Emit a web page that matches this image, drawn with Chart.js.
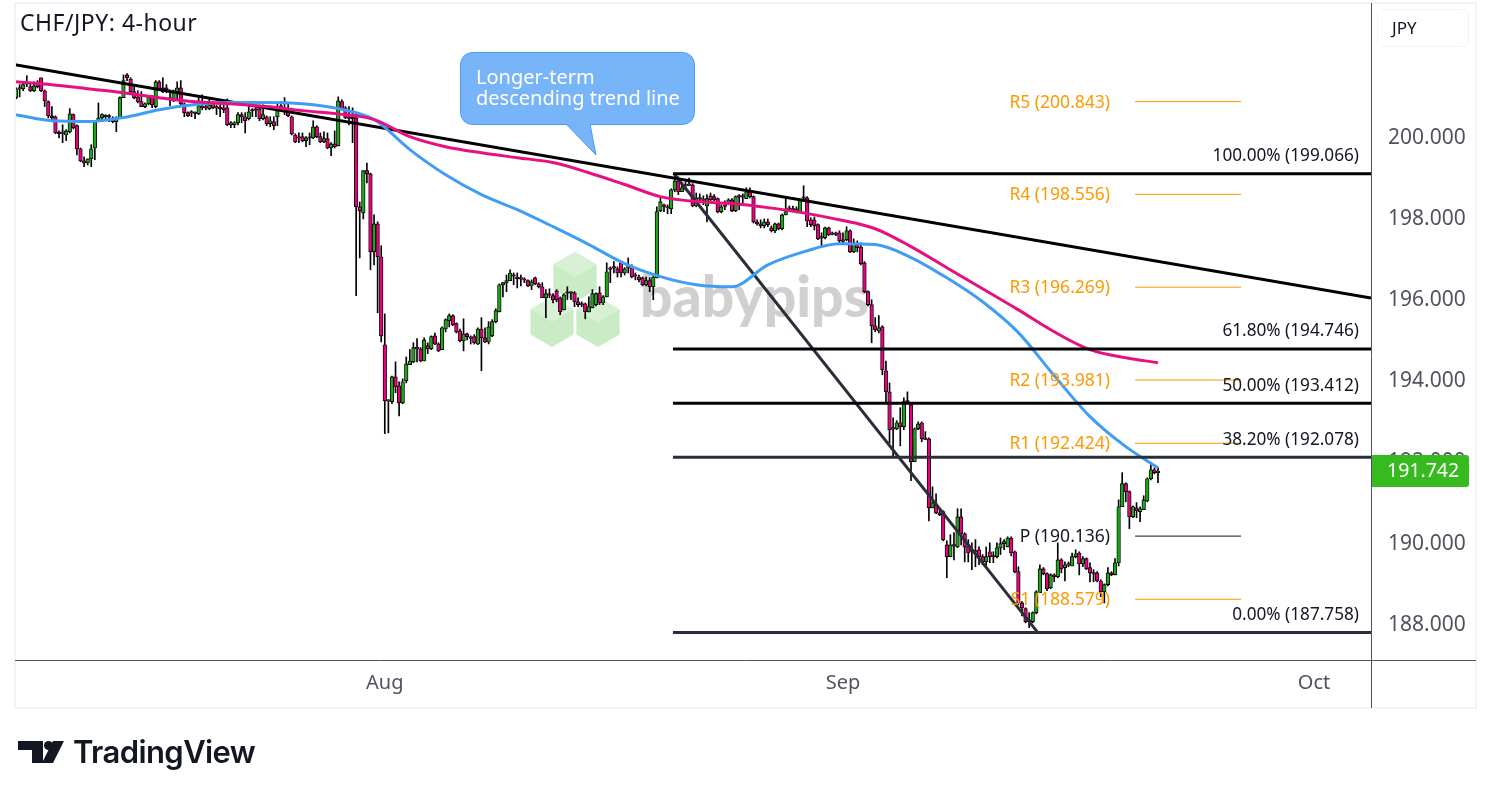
<!DOCTYPE html>
<html>
<head>
<meta charset="utf-8">
<title>CHF/JPY: 4-hour</title>
<script src="https://cdn.jsdelivr.net/npm/chart.js@4"></script>
<style>
    html, body { margin: 0; padding: 0; background: #fff; overflow: hidden; }
    #wrap { position: relative; width: 1491px; height: 798px; }
    canvas { position: absolute; left: 0; top: 0; }
    #title { position: absolute; left: 20px; top: 6px; font: 23px "Noto Sans", sans-serif; letter-spacing: 0.5px; color: #131722; }
    #unit { position: absolute; left: 1377px; top: 9px; width: 92px; height: 38px; box-sizing: border-box;
        border: 1px solid #f0f3fa; border-radius: 6px; font: 17px "Noto Sans", sans-serif; color: #131722;
        line-height: 36px; padding-left: 14px; }
    #logo { position: absolute; left: 18px; top: 736px; font: 600 31px Inter, sans-serif; color: #131722; }
    #logo svg { position: absolute; left: 0; top: 5px; }
    #logo span { position: absolute; left: 55px; top: -3px; white-space: nowrap; letter-spacing: -0.6px; }
</style>
</head>
<body>
<div id="wrap">
    <canvas id="chart" width="1491" height="798"></canvas>
    <div id="title">CHF/JPY: 4-hour</div>
    <div id="unit">JPY</div>
    <div id="logo">
        <svg width="46" height="24" viewBox="0 0 46 24"><path d="M0 0H25V22H14V9H0Z" fill="#131722"/><circle cx="30.5" cy="4.5" r="4.5" fill="#131722"/><path d="M35 0H46L35 22H24Z" fill="#131722"/></svg>
        <span>TradingView</span>
    </div>
</div>
<script>
// candles (one row = 10 bars)
const opens = [
    200.94,201.16,201.16,201.27,201.21,201.11,201.31,201.43,201.11,200.84,
    200.49,200.47,200.07,200.07,200.02,200.10,200.52,200.25,199.68,199.38,
    199.33,199.43,199.70,200.35,200.44,200.47,200.47,200.42,200.35,200.44,
    200.94,201.50,201.40,201.09,200.96,200.84,200.72,200.79,200.96,200.72,
    201.33,201.18,201.18,200.91,200.86,201.09,201.18,200.79,200.57,200.57,
    200.57,200.54,200.74,200.69,200.67,200.81,200.69,200.69,200.69,200.69,
    200.27,200.27,200.32,200.52,200.47,200.42,200.62,200.64,200.67,200.42,
    200.47,200.30,200.35,200.47,200.74,200.69,200.62,200.47,200.02,199.95,
    199.98,199.88,199.95,199.95,200.22,199.98,199.85,199.93,199.70,199.80,
    199.75,200.84,200.69,200.44,200.44,200.44,198.25,198.10,199.14,199.06,
    197.14,197.83,197.02,194.85,193.47,193.45,194.06,193.84,193.42,193.96,
    194.36,194.43,194.76,194.75,194.45,194.83,194.75,195.07,194.87,194.73,
    195.24,195.44,195.57,195.37,195.19,194.95,195.12,195.02,195.05,194.87,
    195.24,195.02,194.92,195.07,195.42,195.66,196.33,196.38,196.43,196.55,
    196.52,196.48,196.45,196.43,196.30,196.50,196.35,196.28,196.01,196.08,
    196.06,196.18,196.01,195.71,196.13,196.13,196.13,195.91,195.84,195.86,
    195.66,195.76,195.84,196.13,195.88,196.03,196.72,196.75,196.72,196.87,
    196.62,196.75,196.75,196.55,196.52,196.50,196.33,196.43,196.28,196.50,
    198.15,198.27,198.25,198.20,198.67,198.89,198.62,198.77,198.79,198.79,
    198.27,198.45,198.42,198.27,198.52,198.50,198.45,198.13,198.27,198.32,
    198.42,198.15,198.50,198.50,198.45,198.62,198.50,197.88,197.83,197.78,
    197.88,197.73,197.66,197.83,197.71,198.05,198.20,198.18,198.20,198.13,
    198.47,198.47,197.93,197.93,197.81,197.49,197.49,197.73,197.58,197.58,
    197.61,197.41,197.44,197.66,197.14,197.31,197.26,196.87,196.16,195.84,
    195.32,195.19,195.29,194.21,193.69,192.78,192.78,192.93,192.83,193.45,
    193.37,191.97,192.78,192.93,192.53,192.53,190.83,190.93,190.71,190.74,
    189.92,189.63,189.90,189.87,190.61,190.19,189.87,189.77,189.75,189.80,
    189.63,189.50,189.75,189.63,189.63,189.85,189.95,189.87,190.09,189.75,
    189.26,188.49,188.35,188.07,188.03,188.25,188.74,189.33,189.21,188.86,
    189.18,189.13,189.55,189.36,189.43,189.40,189.63,189.72,189.45,189.58,
    189.36,189.21,189.23,189.03,188.76,188.94,189.23,189.18,189.48,190.86,
    191.43,191.23,190.61,190.83,190.74,190.79,191.00,191.55,191.77,191.70
];
const highs = [
    201.18,201.26,201.31,201.48,201.31,201.33,201.36,201.43,201.13,200.86,
    200.72,200.49,200.12,200.27,200.15,200.67,200.54,200.27,199.70,199.48,
    199.43,199.78,200.35,200.81,200.54,200.52,200.52,200.47,200.47,200.96,
    201.50,201.53,201.43,201.26,201.11,201.09,200.81,200.99,200.99,201.36,
    201.36,201.43,201.26,201.13,201.13,201.33,201.36,200.81,200.59,200.62,
    200.59,200.96,201.01,200.81,200.91,200.84,200.76,200.81,200.81,200.91,
    200.35,200.35,200.57,200.57,200.57,200.81,200.67,200.69,200.76,200.76,
    200.49,200.47,200.47,200.81,200.84,200.94,200.81,200.49,200.05,200.07,
    200.07,199.98,200.07,200.37,200.25,200.07,200.10,200.07,199.83,200.12,
    200.96,200.89,200.72,200.72,200.69,200.57,198.37,199.14,199.33,199.08,
    198.05,197.88,197.29,195.61,193.49,194.08,194.43,193.94,194.01,194.55,
    194.73,194.90,195.00,194.78,195.02,194.90,195.07,195.14,194.90,195.29,
    195.49,195.61,195.59,195.39,195.24,195.49,195.14,195.07,195.10,195.27,
    195.52,195.27,195.42,195.47,195.74,196.35,196.38,196.57,196.70,196.62,
    196.62,196.57,196.50,196.45,196.45,196.52,196.38,196.38,196.21,196.23,
    196.11,196.21,196.03,196.11,196.28,196.16,196.16,196.01,195.91,195.88,
    196.03,196.21,196.13,196.28,196.06,196.87,196.77,196.90,196.77,196.90,
    196.75,196.99,196.82,196.62,196.57,196.52,196.52,196.50,196.55,198.25,
    198.47,198.32,198.30,198.69,199.06,198.99,198.84,198.87,198.96,198.82,
    198.59,198.57,198.52,198.55,198.59,198.55,198.47,198.30,198.40,198.45,
    198.45,198.52,198.55,198.57,198.72,198.72,198.52,197.93,197.93,197.95,
    197.95,197.78,197.85,197.85,198.07,198.45,198.27,198.27,198.25,198.44,
    198.77,198.50,197.98,198.00,197.83,197.61,197.75,197.75,197.63,197.63,
    197.66,197.61,197.76,197.68,197.46,197.41,197.36,196.90,196.18,195.96,
    195.52,195.57,195.32,194.45,193.91,193.05,192.98,193.30,193.54,193.69,
    193.40,192.80,192.95,192.95,192.71,192.56,191.35,191.18,190.79,190.76,
    190.02,190.17,190.22,190.81,190.81,190.22,190.05,189.97,190.05,189.87,
    189.68,189.87,189.97,189.75,189.97,190.09,190.05,190.12,190.12,189.77,
    189.38,188.52,188.37,188.25,188.27,188.79,189.43,189.36,189.23,189.21,
    189.21,189.97,189.58,189.50,189.50,189.72,189.80,189.75,189.63,189.60,
    189.48,189.31,189.26,189.06,188.96,189.36,189.26,189.58,191.03,191.70,
    191.45,191.25,190.88,190.96,190.86,191.13,191.57,191.94,191.82,191.82
];
const lows = [
    200.91,200.96,201.11,201.21,201.09,201.09,201.18,201.09,200.72,200.44,
    200.35,200.05,199.95,199.83,199.88,200.07,200.17,199.53,199.36,199.24,
    199.28,199.24,199.41,200.35,200.35,200.39,200.35,200.32,200.10,200.44,
    200.94,201.36,201.06,200.91,200.81,200.72,200.69,200.76,200.69,200.69,
    201.11,201.06,201.06,200.74,200.84,200.89,200.76,200.47,200.47,200.47,
    200.42,200.52,200.64,200.64,200.64,200.67,200.52,200.47,200.57,200.25,
    200.20,200.20,200.27,200.32,200.07,200.39,200.47,200.47,200.37,200.39,
    200.25,200.22,200.15,200.25,200.64,200.52,200.47,200.02,199.83,199.83,
    199.85,199.73,199.78,199.93,199.95,199.83,199.83,199.68,199.51,199.70,
    199.75,200.64,200.42,200.27,199.83,196.06,196.99,197.95,198.84,196.70,
    196.82,195.64,194.92,192.66,192.68,193.40,193.67,193.10,193.40,193.91,
    194.36,194.41,194.43,194.43,194.45,194.63,194.73,194.85,194.68,194.73,
    195.17,195.29,195.32,195.14,194.92,194.70,194.97,194.87,194.87,194.85,
    194.21,194.90,194.87,195.05,195.39,195.66,196.03,196.16,196.43,196.33,
    196.25,196.30,196.38,196.28,196.21,196.33,196.25,196.01,195.52,196.01,
    195.88,195.91,195.59,195.71,195.96,195.96,195.79,195.79,195.79,195.49,
    195.66,195.76,195.81,195.84,195.84,196.03,196.38,196.62,196.52,196.52,
    196.57,196.62,196.50,196.45,196.40,196.30,196.30,196.16,195.96,196.50,
    198.13,198.13,198.08,198.08,198.62,198.55,198.62,198.67,198.77,198.25,
    198.25,198.40,198.30,197.88,198.40,198.40,198.10,198.10,198.18,198.30,
    198.13,198.13,198.18,198.35,198.45,198.47,197.85,197.80,197.73,197.73,
    197.76,197.63,197.61,197.68,197.68,198.05,198.15,198.13,198.10,198.10,
    198.42,197.76,197.76,197.68,197.44,197.29,197.46,197.54,197.56,197.54,
    197.34,197.36,197.41,197.12,197.12,197.14,196.82,196.13,195.81,194.90,
    195.17,195.14,194.11,193.42,192.43,192.11,192.76,192.36,192.76,193.42,
    191.50,191.97,192.76,192.46,192.51,190.51,190.83,190.69,190.64,190.02,
    189.11,189.63,189.55,189.85,189.92,189.50,189.50,189.31,189.38,189.43,
    189.43,189.38,189.48,189.48,189.60,189.68,189.80,189.87,189.65,189.23,
    188.44,188.17,188.00,187.88,188.00,188.22,188.74,189.18,188.79,188.84,
    189.01,189.11,189.23,189.03,189.38,189.40,189.60,189.18,189.38,189.31,
    189.01,189.01,189.01,188.64,188.49,188.91,189.16,189.18,189.40,190.86,
    190.98,190.32,190.59,190.59,190.49,190.79,190.98,191.52,191.67,191.45
];
const closes = [
    201.16,201.15,201.26,201.29,201.11,201.23,201.21,201.11,200.86,200.49,
    200.44,200.07,200.05,200.06,200.12,200.54,200.20,199.68,199.38,199.33,
    199.43,199.68,200.35,200.44,200.52,200.48,200.46,200.35,200.44,200.94,
    201.36,201.43,201.09,200.94,200.84,200.72,200.79,200.96,200.76,201.33,
    201.16,201.09,201.13,200.90,201.11,201.18,200.79,200.57,200.49,200.56,
    200.55,200.74,200.69,200.68,200.76,200.69,200.68,200.67,200.64,200.27,
    200.32,200.32,200.52,200.47,200.37,200.59,200.61,200.63,200.42,200.52,
    200.30,200.37,200.25,200.72,200.69,200.62,200.49,200.05,199.85,199.94,
    199.88,199.95,199.94,200.22,199.98,199.85,199.93,199.70,199.80,199.73,
    200.86,200.67,200.44,200.43,200.42,198.25,198.15,199.14,199.06,197.14,
    197.83,197.02,195.07,193.47,193.46,194.06,193.81,193.42,193.94,194.38,
    194.45,194.78,194.75,194.45,194.97,194.75,195.05,194.87,194.70,195.27,
    195.47,195.57,195.34,195.17,194.95,195.12,195.05,195.01,194.90,195.24,
    195.02,194.92,195.29,195.42,195.69,196.33,196.38,196.43,196.62,196.54,
    196.48,196.47,196.44,196.30,196.40,196.35,196.28,196.01,196.11,196.07,
    195.96,195.96,195.66,196.08,196.12,196.12,195.91,195.84,195.83,195.66,
    195.79,196.11,196.11,195.88,196.03,196.65,196.71,196.74,196.62,196.62,
    196.72,196.74,196.52,196.54,196.45,196.33,196.43,196.28,196.52,198.13,
    198.37,198.26,198.22,198.67,198.89,198.62,198.72,198.76,198.78,198.27,
    198.47,198.44,198.41,198.45,198.42,198.42,198.13,198.25,198.26,198.42,
    198.15,198.50,198.49,198.49,198.62,198.50,197.88,197.83,197.78,197.88,
    197.81,197.66,197.83,197.71,198.05,198.13,198.19,198.17,198.13,198.42,
    198.46,197.90,197.81,197.78,197.46,197.48,197.73,197.56,197.57,197.57,
    197.41,197.40,197.66,197.14,197.36,197.24,196.85,196.16,195.84,195.32,
    195.22,195.27,194.23,193.69,192.76,192.77,192.93,192.83,193.45,193.44,
    191.97,192.78,192.90,192.53,192.52,190.83,190.96,190.71,190.66,190.05,
    189.63,189.92,189.89,190.61,190.19,189.87,189.72,189.76,189.74,189.63,
    189.50,189.63,189.63,189.62,189.85,189.95,190.00,190.09,189.72,189.26,
    188.49,188.37,188.03,188.03,188.25,188.76,189.33,189.21,188.84,189.18,
    189.13,189.55,189.33,189.43,189.42,189.63,189.70,189.45,189.58,189.33,
    189.23,189.20,189.03,188.76,188.94,189.23,189.18,189.48,190.86,191.43,
    191.23,190.61,190.86,190.76,190.81,191.03,191.55,191.77,191.70,191.74
];

// moving averages, sampled every 10 bars
const maBars = [0,10,20,30,40,50,60,70,80,90,100,110,120,130,140,150,160,170,180,190,200,210,220,230,240,250,260,270,280,290,300,310,319];
const blueMa = [200.52,200.37,200.35,200.45,200.64,200.77,200.82,200.82,200.79,200.67,200.40,199.66,199.04,198.55,198.18,197.76,197.32,196.85,196.53,196.33,196.28,196.82,197.14,197.34,197.32,197.00,196.50,195.91,195.15,194.09,193.08,192.34,191.82];
const pinkMa = [201.33,201.26,201.16,201.06,200.94,200.84,200.79,200.72,200.62,200.54,200.40,199.98,199.73,199.58,199.46,199.34,199.09,198.80,198.50,198.38,198.33,198.23,198.10,197.93,197.71,197.27,196.75,196.23,195.71,195.17,194.73,194.53,194.41];

// trend lines
const longTrendBars = [-0.3, 378.5];
const longTrendPrices = [201.75, 196.00];
const fibTrendBars = [184, 285.5];
const fibTrendPrices = [199.04, 187.75];

// fibonacci retracement
const fibLabels = ['100.00%', '61.80%', '50.00%', '38.20%', '0.00%'];
const fibPrices = [199.066, 194.746, 193.412, 192.078, 187.758];
const fibColors = ['#000000', '#000000', '#000000', '#2a2e39', '#2a2e39'];
const fibBars = [183.5, 378.5];

// pivot points
const pivotLabels = ['R5', 'R4', 'R3', 'R2', 'R1', 'P', 'S1'];
const pivotPrices = [200.843, 198.556, 196.269, 193.981, 192.424, 190.136, 188.579];
const pivotColors = ['#ff9800', '#ff9800', '#ff9800', '#ff9800', '#ff9800', '#131722', '#ff9800'];
const pivotBars = [312.6, 342.2];

// axes
const priceTicks = [188, 190, 192, 194, 196, 198, 200];
const priceTickLabels = ['188.000', '190.000', '192.000', '194.000', '196.000', '198.000', '200.000'];
const monthTicks = [103, 231, 362.6];
const monthLabels = ['Aug', 'Sep', 'Oct'];
const lastPrice = 191.742;

const green = '#1fa51a';
const pink = '#e6007e';
const labelFont = '"Noto Sans", sans-serif';

const twoPoints = (bars, prices) => bars.map((b, i) => ({ x: b, y: prices[i] }));
const flatLine = (label, price, color, bars, width) => ({
    type: 'line', label, data: bars.map(b => ({ x: b, y: price })),
    borderColor: color, borderWidth: width, pointRadius: 0, order: 1
});

const datasets = [
    {
        type: 'line', label: 'Pink MA', data: twoPoints(maBars, pinkMa), borderColor: '#e6107f', borderWidth: 3,
        pointRadius: 0, cubicInterpolationMode: 'monotone', order: 2
    },
    {
        type: 'line', label: 'Blue MA', data: twoPoints(maBars, blueMa), borderColor: '#3f9df5', borderWidth: 3,
        pointRadius: 0, cubicInterpolationMode: 'monotone', order: 2
    },
    {
        type: 'line', label: 'Long trend', data: twoPoints(longTrendBars, longTrendPrices), borderColor: '#000000',
        borderWidth: 3, pointRadius: 0, order: 3
    },
    {
        type: 'line', label: 'Fib trend', data: twoPoints(fibTrendBars, fibTrendPrices), borderColor: '#2a2e39',
        borderWidth: 3, pointRadius: 0, order: 3
    },
    {
        type: 'bar', label: 'Body', grouped: false, barThickness: 3.6, minBarLength: 1.5, borderWidth: 0.9, borderSkipped: false,
        data: opens.map((o, i) => ({ x: i, y: [o, closes[i]] })),
        backgroundColor: opens.map((o, i) => closes[i] >= o ? green : pink),
        borderColor: '#000000', order: 4
    },
    {
        type: 'bar', label: 'Wick', grouped: false, barThickness: 1,
        data: lows.map((l, i) => ({ x: i, y: [l, highs[i]] })),
        backgroundColor: '#000000', order: 5
    }
];
fibPrices.forEach((p, i) => datasets.push(flatLine(fibLabels[i], p, fibColors[i], fibBars, 3)));
pivotPrices.forEach((p, i) => datasets.push(flatLine(pivotLabels[i], p, pivotColors[i], pivotBars, 1)));

function hexagon(ctx, cx, cy, r) {
    ctx.fillStyle = '#c9ebc6';
    ctx.beginPath();
    for (let k = 0; k < 6; k++) {
        const a = Math.PI / 3 * k - Math.PI / 2;
        ctx.lineTo(cx + r * Math.cos(a), cy + r * Math.sin(a));
    }
    ctx.closePath();
    ctx.fill();
    // lighter top face
    ctx.fillStyle = '#d8f1d5';
    ctx.beginPath();
    ctx.moveTo(cx, cy - r);
    ctx.lineTo(cx + r * 0.866, cy - r / 2);
    ctx.lineTo(cx, cy);
    ctx.lineTo(cx - r * 0.866, cy - r / 2);
    ctx.closePath();
    ctx.fill();
}

// watermark goes under the candles
const watermark = {
    id: 'watermark',
    beforeDatasetsDraw(chart) {
        const ctx = chart.ctx;
        ctx.save();
        hexagon(ctx, 575, 277, 25);
        hexagon(ctx, 552, 322, 25);
        hexagon(ctx, 598, 322, 25);
        ctx.fillStyle = '#d0d0d0';
        ctx.font = '900 57px Lato, sans-serif';
        ctx.textBaseline = 'alphabetic';
        ctx.fillText('babypips', 640, 317);
        ctx.restore();
    }
};

// frame, axis lines, level labels, callout and price tag
const overlay = {
    id: 'overlay',
    afterDraw(chart) {
        const ctx = chart.ctx;
        const { x, y } = chart.scales;
        const area = chart.chartArea;
        ctx.save();

        ctx.strokeStyle = '#f0f3fa';
        ctx.lineWidth = 2;
        ctx.strokeRect(15, 3, 1461, 705);
        ctx.strokeStyle = '#50535e';
        ctx.lineWidth = 1;
        ctx.beginPath();
        ctx.moveTo(15, area.bottom + 0.5);
        ctx.lineTo(1476, area.bottom + 0.5);
        ctx.moveTo(area.right + 0.5, 3);
        ctx.lineTo(area.right + 0.5, 708);
        ctx.stroke();

        ctx.textAlign = 'right';
        ctx.textBaseline = 'middle';
        ctx.font = '17.5px ' + labelFont;
        pivotLabels.forEach((name, i) => {
            ctx.fillStyle = pivotColors[i];
            ctx.fillText(name + ' (' + pivotPrices[i].toFixed(3) + ')', x.getPixelForValue(pivotBars[0]) - 25, y.getPixelForValue(pivotPrices[i]) + 1);
        });
        ctx.font = '17.2px ' + labelFont;
        fibLabels.forEach((name, i) => {
            ctx.fillStyle = '#131722';
            ctx.fillText(name + ' (' + fibPrices[i].toFixed(3) + ')', area.right - 12, y.getPixelForValue(fibPrices[i]) - 17.5);
        });

        // callout
        ctx.fillStyle = '#78b4f8';
        ctx.strokeStyle = '#4a9cf5';
        ctx.lineWidth = 1;
        ctx.beginPath();
        ctx.roundRect(460.5, 52.5, 234, 72, 12);
        ctx.fill();
        ctx.stroke();
        ctx.beginPath();
        ctx.moveTo(566, 124);
        ctx.lineTo(596, 155);
        ctx.lineTo(590, 124);
        ctx.closePath();
        ctx.fill();
        ctx.beginPath();
        ctx.moveTo(566, 124);
        ctx.lineTo(596, 155);
        ctx.lineTo(590, 124);
        ctx.stroke();
        ctx.fillStyle = '#78b4f8';
        ctx.fillRect(567, 122, 23, 3);
        ctx.fillStyle = '#ffffff';
        ctx.textAlign = 'left';
        ctx.font = '20px ' + labelFont;
        ctx.fillText('Longer-term', 476, 78);
        ctx.fillText('descending trend line', 476, 99);

        // last price tag
        const py = y.getPixelForValue(lastPrice);
        ctx.fillStyle = '#36ba1f';
        ctx.beginPath();
        ctx.roundRect(area.right + 1, py - 16, 97, 32, [0, 3, 3, 0]);
        ctx.fill();
        ctx.fillStyle = '#ffffff';
        ctx.font = '19.5px ' + labelFont;
        ctx.fillText(lastPrice.toFixed(3), 1387, py + 1);
        ctx.restore();
    }
};

new Chart(document.getElementById('chart').getContext('2d'), {
    type: 'bar',
    data: { datasets },
    plugins: [watermark, overlay],
    options: {
        responsive: false,
        animation: false,
        devicePixelRatio: 1,
        layout: { padding: { left: 15, top: 3, right: 15, bottom: 90 } },
        plugins: { legend: { display: false }, title: { display: false }, tooltip: { enabled: false } },
        scales: {
            x: {
                type: 'linear', offset: false, min: -0.3, max: 378.5,
                grid: { display: false, offset: false, drawTicks: false },
                border: { display: false },
                afterBuildTicks: s => { s.ticks = monthTicks.map(v => ({ value: v })); },
                // no label margins: the plot area has to stay where the reference has it
                afterFit: s => { s.height = 48; s.paddingLeft = 0; s.paddingRight = 0; },
                ticks: {
                    autoSkip: false, maxRotation: 0, padding: 11, color: '#50535e',
                    font: { family: '"Noto Sans"', size: 20 },
                    callback: v => monthLabels[monthTicks.indexOf(v)]
                }
            },
            y: {
                position: 'right', min: 187.083, max: 203.272,
                grid: { display: false, drawTicks: false },
                border: { display: false },
                afterBuildTicks: s => { s.ticks = priceTicks.map(v => ({ value: v })); },
                afterFit: s => { s.width = 105; s.paddingTop = 0; s.paddingBottom = 0; },
                ticks: {
                    autoSkip: false, padding: 17, labelOffset: 2, color: '#50535e',
                    font: { family: '"Noto Sans"', size: 21 },
                    callback: v => priceTickLabels[priceTicks.indexOf(v)]
                }
            }
        }
    }
});
</script>
</body>
</html>
